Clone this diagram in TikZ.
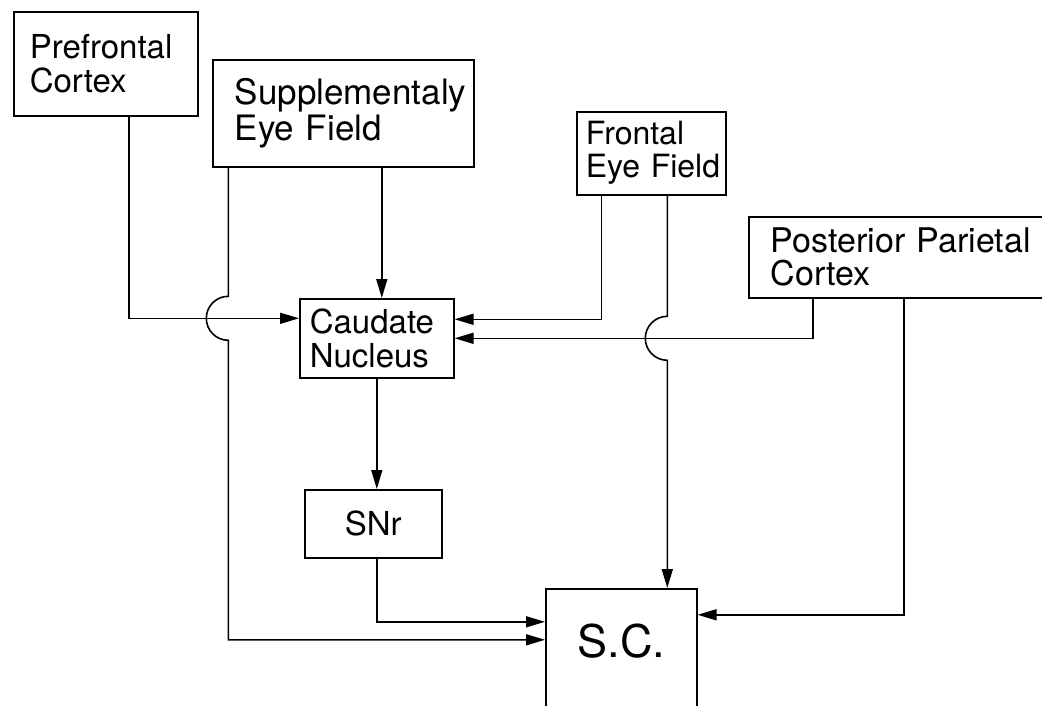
\documentclass[tikz,border=0pt]{standalone}
\usepackage{fontspec}
\setmainfont{TeX Gyre Heros}
\usetikzlibrary{arrows.meta,positioning,calc}

\begin{document}
\begin{tikzpicture}[x=1pt,y=-1pt,font=\fontsize{33}{34}\selectfont,
  blk/.style={rectangle,draw,line width=1.6pt,align=left,inner ysep=3pt,anchor=north west},
  arr/.style={-{Triangle[length=19pt,width=11pt]},line width=1.6pt}]
\useasboundingbox (0,0) rectangle (1042,706);
\node[blk,minimum width=184pt,minimum height=104pt,text width=152pt,inner xsep=16pt] (pfc) at (13,11) {Prefrontal\\Cortex};
\node[blk,minimum width=261pt,minimum height=107pt,text width=217pt,inner xsep=22pt,font=\fontsize{35}{36}\selectfont] (sef) at (212,59) {\mbox{Supplementaly}\\\mbox{Eye Field}};
\node[blk,minimum width=149pt,minimum height=83pt,text width=131pt,inner xsep=9pt,font=\fontsize{32}{33}\selectfont] (fef) at (576,111) {Frontal\\\mbox{Eye Field}};
\node[blk,minimum width=296pt,minimum height=81pt,text width=252pt,inner xsep=22pt,font=\fontsize{34}{33}\selectfont] (ppc) at (748,216) {\mbox{Posterior Parietal}\\Cortex};
\node[blk,minimum width=154pt,minimum height=79pt,text width=134pt,inner xsep=10pt] (cn) at (299,298) {Caudate\\Nucleus};
\node[blk,minimum width=137pt,minimum height=68pt] (snr) at (304,489) {SNr};
\node[blk,minimum width=151pt,minimum height=130pt,font=\fontsize{45}{46}\selectfont,text height=32pt,text depth=24pt] (sc) at (545,588) {S.C.};
\coordinate (cnw) at ([yshift=20pt]cn.west);
\coordinate (cnn) at ([xshift=5pt]cn.north);
\coordinate (sefl) at ([xshift=-115pt]sef.south);
\coordinate (fefr) at ([xshift=16pt]fef.south);
\coordinate (hopa) at (sefl |- cnw);
\coordinate (hopb) at (fefr |- cn.east);
\draw[arr] ([xshift=23pt]pfc.south) |- (cnw);
\draw[arr] (sefl) -- ([yshift=22pt]hopa) arc[start angle=90,end angle=270,radius=22pt] |- ([yshift=14pt]sc.west);
\draw[arr] (cnn |- sef.south) -- (cnn);
\draw[arr] ([xshift=-50pt]fef.south) |- ([yshift=19pt]cn.east);
\draw[arr] (fefr) -- ([yshift=22pt]hopb) arc[start angle=90,end angle=270,radius=22pt] -- (fefr |- sc.north);
\draw[arr] ([xshift=-84pt]ppc.south) |- (cn.east);
\draw[arr] ([xshift=7pt]ppc.south) |- ([yshift=39pt]sc.east);
\draw[arr] (cn.south) -- (cn.south |- snr.north);
\draw[arr] (cn.south |- snr.south) |- ([yshift=32pt]sc.west);
\end{tikzpicture}
\end{document}
